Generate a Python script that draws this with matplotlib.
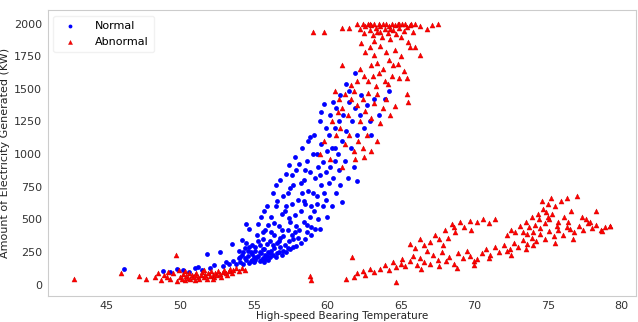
import numpy as np
import matplotlib
matplotlib.use("Agg")
import matplotlib.pyplot as plt

# Normal readings (temperature, power)
normal_tail = [
    (46.2, 120), (48.8, 105), (49.3, 95), (49.8, 120), (50.2, 110), (50.6, 95),
    (51.0, 125), (51.2, 137), (51.5, 110), (51.8, 236), (52.0, 130), (52.3, 150),
    (52.7, 252), (52.9, 140), (53.1, 170), (53.3, 155), (53.5, 313), (53.6, 180),
    (53.8, 160), (54.0, 200),
]
normal_body = [
    (54.1, 175), (54.2, 230), (54.3, 160), (54.4, 280), (54.5, 465), (54.5, 190),
    (54.6, 215), (54.7, 427), (54.7, 165), (54.8, 250), (54.9, 300), (54.9, 185),
    (55.0, 210), (54.2, 340), (54.4, 200), (54.6, 260), (54.8, 180), (54.3, 250),
    (54.9, 235), (55.0, 170), (54.1, 210), (54.5, 320), (54.7, 290), (54.0, 260),
    (55.1, 190), (55.1, 260), (55.2, 380), (55.3, 465), (55.3, 220), (55.4, 180),
    (55.4, 300), (55.5, 240), (55.5, 520), (55.6, 200), (55.6, 350), (55.7, 275),
    (55.7, 175), (55.8, 420), (55.8, 230), (55.9, 603), (55.9, 310), (56.0, 250),
    (56.0, 190), (55.2, 210), (55.4, 250), (55.6, 270), (55.8, 195), (55.3, 330),
    (55.5, 185), (55.7, 560), (55.9, 215), (56.0, 460), (55.1, 290), (55.6, 400),
    (56.1, 210), (56.1, 330), (56.2, 520), (56.2, 260), (56.3, 700), (56.3, 230),
    (56.4, 380), (56.4, 280), (56.5, 600), (56.5, 210), (56.6, 641), (56.6, 320),
    (56.7, 450), (56.7, 250), (56.8, 800), (56.8, 290), (56.9, 540), (56.9, 230),
    (57.0, 370), (57.0, 680), (56.2, 400), (56.4, 470), (56.6, 240), (56.8, 360),
    (57.0, 260), (56.3, 300), (56.5, 760), (56.7, 330), (56.9, 420), (56.1, 240),
]
normal_upper = [
    (57.1, 300), (57.1, 560), (57.2, 850), (57.2, 250), (57.3, 420), (57.3, 700),
    (57.4, 330), (57.4, 920), (57.5, 480), (57.5, 270), (57.6, 620), (57.6, 380),
    (57.7, 760), (57.7, 290), (57.8, 530), (57.8, 980), (57.9, 298), (57.9, 450),
    (58.0, 650), (58.0, 360), (57.2, 600), (57.4, 510), (57.6, 840), (57.8, 400),
    (57.3, 280), (57.5, 740), (57.7, 350), (57.9, 880),
    (58.1, 923), (58.1, 420), (58.2, 560), (58.2, 320), (58.3, 1050), (58.3, 700),
    (58.4, 480), (58.4, 800), (58.5, 350), (58.5, 620), (58.6, 950), (58.6, 400),
    (58.7, 720), (58.7, 1100), (58.8, 520), (58.8, 860), (58.9, 600), (58.9, 380),
    (59.0, 1000), (59.0, 700), (58.2, 780), (58.4, 640), (58.6, 460), (58.8, 1130),
    (58.5, 880), (58.9, 440),
    (59.1, 560), (59.1, 1150), (59.2, 820), (59.2, 427), (59.3, 680), (59.3, 1000),
    (59.4, 900), (59.4, 500), (59.5, 427), (59.5, 1250), (59.6, 760), (59.6, 1080),
    (59.7, 600), (59.7, 940), (59.8, 1381), (59.8, 700), (59.9, 860), (59.9, 1200),
    (60.0, 520), (60.0, 1020), (59.3, 620), (59.6, 1320), (59.9, 650), (59.5, 840),
    (60.1, 780), (60.1, 1150), (60.2, 1300), (60.2, 900), (60.3, 600), (60.3, 1050),
    (60.4, 1400), (60.4, 820), (60.5, 950), (60.5, 1200), (60.6, 700), (60.6, 1350),
    (60.7, 1000), (60.8, 1250), (60.8, 880), (60.9, 1450), (61.0, 633), (61.0, 1100),
    (60.5, 1050), (60.9, 760),
    (61.1, 1300), (61.2, 950), (61.3, 1534), (61.3, 1180), (61.4, 820), (61.5, 1400),
    (61.6, 1050), (61.7, 1250), (61.8, 900), (61.9, 1625), (61.9, 1350), (62.0, 794),
    (62.0, 1150), (61.5, 1480),
    (62.2, 1300), (62.3, 1450), (62.5, 1200), (62.7, 1380), (62.9, 1250), (63.2, 1420),
    (63.5, 1300), (63.9, 1419), (64.2, 1480), (63.0, 1150),
]

# Abnormal readings
abnormal_low = [
    (42.8, 45), (46.0, 85), (47.2, 65), (47.7, 45), (48.3, 60), (48.5, 90),
    (48.7, 35), (48.9, 75), (49.1, 55), (49.3, 40), (49.5, 85), (49.7, 229),
    (49.8, 30), (50.0, 60), (50.1, 45), (50.2, 80), (50.3, 35), (50.4, 65),
    (50.5, 50), (50.6, 90), (50.7, 40), (50.8, 70), (50.9, 55), (51.0, 35),
    (51.1, 85), (51.2, 60), (51.3, 45), (51.4, 75), (51.5, 95), (51.6, 55),
    (51.7, 70), (51.8, 40), (51.9, 85), (52.0, 65), (52.1, 100), (52.2, 75),
    (52.3, 55), (52.4, 90), (52.5, 70), (52.6, 105), (52.7, 80), (52.8, 60),
    (52.9, 95), (53.0, 110), (53.1, 85), (53.2, 70), (53.3, 100), (53.4, 120),
    (53.5, 90), (53.6, 110), (53.8, 125), (54.0, 105), (54.2, 130), (54.4, 115),
    (50.3, 100), (51.0, 70), (51.6, 110), (52.2, 45), (49.9, 110), (49.2, 95),
    (58.8, 69), (58.9, 31), (61.7, 214), (61.3, 46),
]
abnormal_top = [
    (59.0, 1938), (59.8, 1938), (61.0, 1968), (61.5, 1970), (62.0, 1995), (62.2, 1960),
    (62.4, 2000), (62.5, 1930), (62.6, 1985), (62.8, 2000), (62.9, 1950), (63.0, 1990),
    (63.1, 1910), (63.2, 2000), (63.3, 1970), (63.4, 1940), (63.5, 2000), (63.6, 1985),
    (63.7, 1900), (63.8, 1995), (63.9, 1960), (64.0, 2000), (64.1, 1930), (64.2, 1985),
    (64.3, 1880), (64.4, 2000), (64.5, 1950), (64.6, 1990), (64.7, 1920), (64.8, 2000),
    (64.9, 1965), (65.0, 1900), (65.1, 1995), (65.2, 1945), (65.3, 2000), (65.4, 1975),
    (65.5, 1860), (65.6, 1990), (65.8, 1940), (66.0, 2000), (66.3, 1980), (66.8, 1960),
    (67.1, 1990), (67.5, 2000), (63.6, 1940), (64.3, 1960), (64.9, 2000), (63.2, 1870),
    (62.9, 2000), (65.7, 2000),
    (62.3, 1850), (62.6, 1780), (62.9, 1820), (63.2, 1760), (63.4, 1700), (63.6, 1830),
    (63.8, 1650), (64.0, 1780), (64.2, 1720), (64.4, 1600), (64.6, 1800), (64.8, 1690),
    (65.0, 1750), (65.2, 1640), (65.4, 1580), (65.6, 1820), (66.0, 1824), (66.3, 1763),
    (61.0, 1686), (62.2, 1650), (62.5, 1600), (62.8, 1560), (63.0, 1680), (63.3, 1520),
    (63.5, 1620), (63.9, 1560), (64.1, 1540), (64.5, 1680), (64.9, 1580), (63.1, 1600),
    (62.0, 1560), (61.6, 1530),
    (60.5, 1480), (60.8, 1420), (61.0, 1350), (61.2, 1460), (61.4, 1300), (61.6, 1420),
    (61.8, 1480), (62.0, 1380), (62.2, 1250), (62.4, 1420), (62.6, 1330), (62.8, 1470),
    (63.0, 1280), (63.2, 1390), (63.4, 1460), (63.6, 1240), (63.8, 1350), (64.0, 1420),
    (64.3, 1300), (64.6, 1370), (65.4, 1457), (65.5, 1396), (60.3, 1250), (60.6, 1150),
    (60.9, 1200), (61.2, 1080), (61.5, 1150), (61.8, 1020), (62.1, 1100), (62.4, 1050),
    (62.7, 1150), (63.0, 1020), (59.8, 1100), (60.2, 960), (61.0, 900), (61.9, 960),
    (62.5, 980), (59.5, 1000), (60.7, 1320), (63.4, 1100),
]
abnormal_right = [
    (61.8, 60), (62.0, 90), (62.4, 107), (62.6, 75), (62.9, 120), (63.2, 95),
    (63.6, 122), (63.9, 150), (64.2, 110), (64.5, 170), (64.7, 137), (64.7, 23),
    (65.0, 160), (65.1, 198), (65.3, 140), (65.6, 180), (65.8, 220), (66.1, 150),
    (66.3, 200), (66.6, 170), (67.0, 160), (67.2, 230), (67.5, 190), (67.8, 250),
    (68.1, 183), (68.3, 210), (68.6, 160), (68.9, 240), (69.2, 200), (69.5, 260),
    (69.7, 221), (70.0, 180), (70.2, 198), (70.5, 240), (70.8, 270), (71.1, 230),
    (71.4, 290), (71.7, 250), (72.0, 300), (72.2, 260), (72.4, 275), (72.7, 320),
    (73.0, 290), (73.3, 340), (66.4, 120), (67.6, 140), (68.8, 130), (70.0, 150),
    (71.0, 200), (72.5, 230),
    (73.6, 310), (73.9, 360), (74.2, 330), (74.5, 390), (74.8, 350), (75.1, 410),
    (75.4, 370), (75.7, 420), (76.0, 380), (76.3, 440), (76.5, 427), (76.8, 400),
    (77.1, 450), (77.4, 420), (77.7, 470), (78.0, 430), (78.3, 460), (78.6, 415),
    (78.9, 440), (79.2, 450), (75.5, 320), (74.0, 300), (76.7, 350), (73.5, 270),
    (65.6, 313), (66.0, 280), (66.3, 350), (66.6, 300), (67.0, 328), (67.3, 380),
    (67.6, 350), (68.0, 420), (68.2, 360), (68.5, 465), (68.7, 400), (69.0, 480),
    (69.3, 440), (69.7, 488), (70.2, 480), (70.6, 504), (71.0, 470), (71.4, 504),
    (69.8, 420), (67.9, 300), (66.8, 260), (68.6, 440),
    (72.2, 380), (72.5, 420), (72.8, 400), (73.1, 450), (73.3, 404), (73.5, 480),
    (73.7, 440), (73.9, 520), (74.1, 460), (74.3, 540), (74.4, 500), (74.6, 641),
    (74.7, 580), (74.9, 557), (75.0, 620), (75.1, 500), (75.2, 660), (75.3, 540),
    (75.5, 600), (75.7, 480), (75.9, 640), (76.1, 520), (76.3, 660), (76.6, 560),
    (77.0, 679), (77.3, 520), (77.6, 500), (77.9, 480), (78.3, 565), (78.7, 412),
    (79.2, 450), (74.0, 400), (74.8, 470), (75.6, 450), (76.4, 480), (74.5, 430),
    (75.0, 520), (73.6, 390),
]

normal = np.array(normal_tail + normal_body + normal_upper)
abnormal = np.array(abnormal_low + abnormal_top + abnormal_right)

fig = plt.figure(figsize=(6.38, 3.22), dpi=100)
ax = fig.add_axes([0.075, 0.082, 0.922, 0.887])

ax.scatter(normal[:, 0], normal[:, 1], s=12, c="blue", marker="o",
           linewidths=0, label="Normal")
ax.scatter(abnormal[:, 0], abnormal[:, 1], s=13, c="red", marker="^",
           edgecolors="#cc0000", linewidths=0.3, label="Abnormal")

ax.set_xlim(41.0, 81.0)
ax.set_ylim(-85, 2105)
ax.set_xticks([45, 50, 55, 60, 65, 70, 75, 80])
ax.set_yticks([0, 250, 500, 750, 1000, 1250, 1500, 1750, 2000])
ax.tick_params(length=0, labelsize=8, colors="#333333", pad=4)

for spine in ax.spines.values():
    spine.set_color("#cccccc")

ax.set_xlabel("High-speed Bearing Temperature", fontsize=7.5, color="#222222", labelpad=0)
ax.set_ylabel("Amount of Electricity Generated (KW)", fontsize=8, color="#222222", labelpad=3)

ax.legend(loc="upper left", fontsize=8, markerscale=0.8, frameon=True,
          edgecolor="#eeeeee", handletextpad=1.2, borderpad=0.5)

fig.savefig("out.png", dpi=100)
